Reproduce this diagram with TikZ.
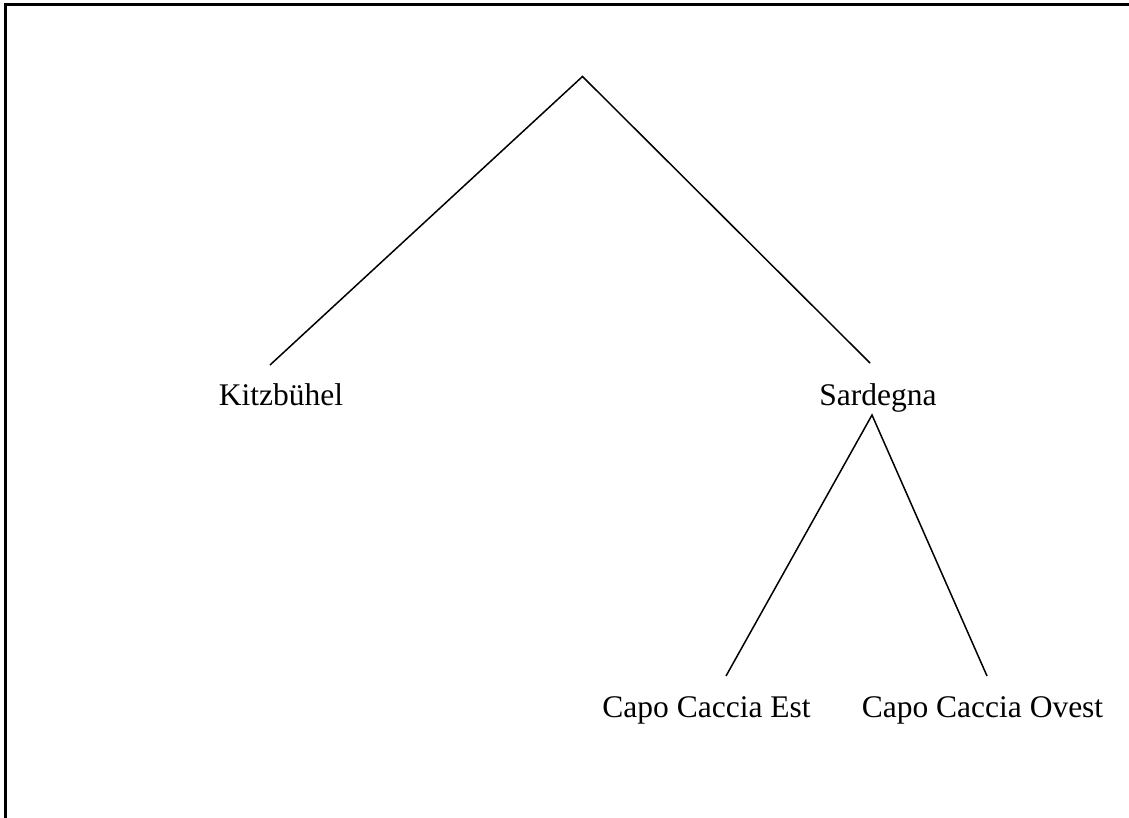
\documentclass[tikz,border=0pt]{standalone}
\usepackage{fontspec}
\setmainfont{Liberation Serif}
\begin{document}
\begin{tikzpicture}[x=0.5pt,y=-0.5pt,
  lbl/.style={font=\fontsize{15.75}{18}\selectfont, inner sep=0pt, anchor=base},
  edge/.style={line width=0.75pt},
  frame/.style={line width=1.1pt}]
\useasboundingbox (0,0) rectangle (1129,818);
\draw[frame] (5.5,818) -- (5.5,4.5) -- (1129,4.5);
% labels
\node[lbl] (kitz) at (281,405) {Kitzbühel};
\node[lbl] (sard) at (878,405) {Sardegna};
\node[lbl] (est) at (706.5,717) {Capo Caccia Est};
\node[lbl] (ovest) at (982.5,717) {Capo Caccia Ovest};
% connector ends
\coordinate (root) at (582.5,76.5);
\coordinate (kitzT) at (270,365);
\coordinate (sardT) at (870,363);
\coordinate (sardB) at (872,415);
\coordinate (estT) at (726,676);
\coordinate (ovestT) at (987,676);
\draw[edge] (kitzT) -- (root) -- (sardT);
\draw[edge] (estT) -- (sardB) -- (ovestT);
\end{tikzpicture}
\end{document}
